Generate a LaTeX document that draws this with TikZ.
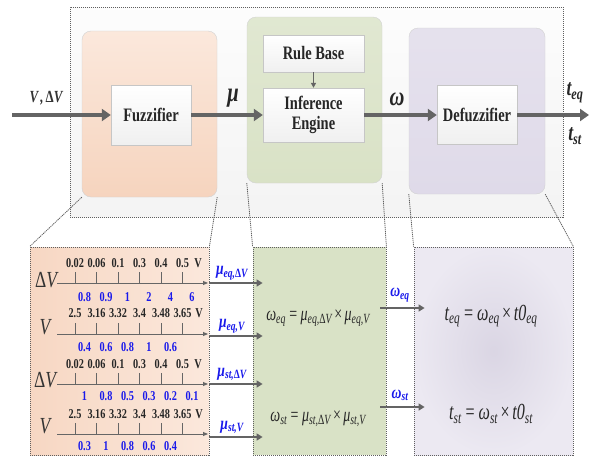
\documentclass[tikz,border=0pt]{standalone}
\usepackage{fontspec}
\setmainfont{Liberation Serif}
\usetikzlibrary{arrows.meta,positioning,calc}
\definecolor{framegrey}{RGB}{95,95,95}
\definecolor{arrowgrey}{RGB}{100,100,100}
\definecolor{fuzzorange}{RGB}{246,212,190}
\definecolor{fuzzdeep}{RGB}{247,215,195}
\definecolor{fuzzpale}{RGB}{251,232,220}
\definecolor{rulegreen}{RGB}{217,226,198}
\definecolor{defuzzpurple}{RGB}{223,218,233}
\definecolor{labelblue}{RGB}{25,25,235}
\newcommand{\nar}[1]{\scalebox{0.76}[1]{#1}}
\newcommand{\narr}[1]{\scalebox{0.7}[1]{#1}}
\newcommand{\bi}[1]{{\bfseries\itshape #1}}
\newcommand{\sub}[1]{\textsubscript{#1}}
\newcommand{\dV}{{\upshape Δ}V}

\begin{document}
\begin{tikzpicture}[x=1pt, y=-1pt,
    region/.style={draw=framegrey, line width=0.8pt, dash pattern=on 1.2pt off 0.8pt, inner sep=0pt},
    stage/.style={rectangle, rounded corners=9pt, draw=gray!35, inner sep=0pt},
    block/.style={rectangle, draw=gray!45, top color=white, bottom color=gray!12, inner sep=0pt,
                  font=\fontsize{19}{22}\selectfont\bfseries, text=black!85, align=center},
    flow/.style={draw=arrowgrey, line width=3.6pt, -{Triangle[length=9pt,width=12pt]}},
    subflow/.style={draw=arrowgrey, line width=1.8pt, -{Triangle[length=6pt,width=7pt]}},
    axisline/.style={draw=black!60, line width=0.9pt, -{Triangle[length=5pt,width=4pt]}},
    tickmark/.style={draw=black!60, line width=0.7pt},
    scalelbl/.style={font=\fontsize{13.5}{13.5}\selectfont\bfseries, text=black!85, inner sep=0pt},
    memblbl/.style={font=\fontsize{13.5}{13.5}\selectfont\bfseries, text=labelblue, inner sep=0pt},
    varlbl/.style={font=\fontsize{23}{23}\selectfont, text=black!80, inner sep=0pt},
    sig/.style={font=\fontsize{27}{27}\selectfont, text=black!85, inner sep=0pt},
    sublbl/.style={font=\fontsize{18}{18}\selectfont, text=labelblue, anchor=south, inner sep=1pt},
    eqn/.style={font=\fontsize{20}{20}\selectfont, text=black!85, inner sep=0pt}
]
    \useasboundingbox (0,0) rectangle (590,459);

    % fuzzy system overview
    \node[region, top color=gray!2, bottom color=gray!9, minimum width=493pt, minimum height=210pt] (system) at (316.5,112) {};
    \node[stage, top color=fuzzpale, bottom color=fuzzorange, minimum width=135pt, minimum height=166pt] (fuzzstage) at (149.5,114) {};
    \node[stage, top color=rulegreen!80, bottom color=rulegreen, minimum width=135pt, minimum height=166pt] (infstage) at (314.5,100) {};
    \node[stage, top color=defuzzpurple!80, bottom color=defuzzpurple, minimum width=136pt, minimum height=166pt] (defstage) at (477,111) {};

    \node[block, minimum width=80pt, minimum height=60pt] (fuzz) at (151,115) {\nar{Fuzzifier}};
    \node[block, minimum width=101pt, minimum height=37pt] (rule) at (313.5,53.5) {\nar{Rule Base}};
    \node[block, minimum width=101pt, minimum height=54pt] (infer) at (313.5,115) {\nar{Inference}\\[-2pt]\nar{Engine}};
    \node[block, minimum width=80pt, minimum height=59pt] (defuzz) at (477,115) {\nar{Defuzzifier}};

    \coordinate (in) at (12,115);
    \coordinate (out) at (589,115);
    \draw[flow] (in) -- (fuzz.west);
    \draw[flow] (fuzz) -- (infer);
    \draw[flow] (infer) -- (defuzz);
    \draw[flow] (defuzz) -- (out);
    \draw[draw=arrowgrey, line width=1.2pt, -{Triangle[length=5pt,width=5pt]}] (rule) -- (infer);

    \node[font=\fontsize{17}{17}\selectfont, text=black!80] (inlbl) at (46,98) {\nar{\bi{V}\,\bi{,}\,\bi{\dV}}};
    \node[sig] (mulbl) at (233,98) {\nar{\bi{μ}}};
    \node[sig] (omlbl) at (397,99) {\nar{\bi{ω}}};
    \node[sig, font=\fontsize{23}{23}\selectfont] (teqlbl) at (575,93) {\nar{\bi{t\sub{eq}}}};
    \node[sig, font=\fontsize{23}{23}\selectfont] (tstlbl) at (575,136) {\nar{\bi{t\sub{st}}}};

    % detail panels
    \node[region, left color=fuzzdeep, right color=fuzzpale, minimum width=179pt, minimum height=208pt] (fuzzB) at (119.5,351) {};
    \node[region, fill=rulegreen, minimum width=133pt, minimum height=208pt] (infB) at (319.5,351) {};
    \node[region, inner color=defuzzpurple!95!gray, outer color=defuzzpurple!60, minimum width=159pt, minimum height=208pt] (defB) at (493.5,351) {};

    \draw[region] (fuzzstage.south west) -- (fuzzB.north west);
    \draw[region] (fuzzstage.south east) -- (fuzzB.north east);
    \draw[region] (infstage.south west) -- (infB.north west);
    \draw[region] (infstage.south east) -- (infB.north east);
    \draw[region] (defstage.south west) -- (defB.north west);
    \draw[region] (defstage.south east) -- (defB.north east);

    % membership scales
    \node[varlbl] (dv1) at (46,280) {\nar{\itshape\dV}};
    \draw[axisline] (57,283) -- (208,283);
    \foreach \v [count=\i] in {0.02,0.06,0.1,0.3,0.4,0.5} {
        \draw[tickmark] ({53.5+21.5*\i},283) -- ++(0,-11);
        \node[scalelbl] (dvtopA\i) at ({53.5+21.5*\i},263) {\nar{\v}};
    }
    \node[scalelbl] (unitA) at (198,263) {\nar{V}};
    \foreach \v [count=\i] in {0.8,0.9,1,2,4,6}
        \node[memblbl] (dvlowA\i) at ({63+21.5*\i},297) {\nar{\v}};

    \node[varlbl] (v1) at (45,327) {\nar{\itshape V}};
    \draw[axisline] (57,334) -- (208,334);
    \foreach \v [count=\i] in {2.5,3.16,3.32,3.4,3.48,3.65} {
        \draw[tickmark] ({53.5+21.5*\i},334) -- ++(0,-11);
        \node[scalelbl] (vtopA\i) at ({53.5+21.5*\i},313) {\nar{\v}};
    }
    \node[scalelbl] (unitB) at (199,313) {\nar{V}};
    \foreach \v [count=\i] in {0.4,0.6,0.8,1,0.6}
        \node[memblbl] (vlowA\i) at ({63+21.5*\i},347) {\nar{\v}};

    \node[varlbl] (dv2) at (45,380) {\nar{\itshape\dV}};
    \draw[axisline] (57,384) -- (208,384);
    \foreach \v [count=\i] in {0.02,0.06,0.1,0.3,0.4,0.5} {
        \draw[tickmark] ({53.5+21.5*\i},384) -- ++(0,-11);
        \node[scalelbl] (dvtopB\i) at ({53.5+21.5*\i},364) {\nar{\v}};
    }
    \node[scalelbl] (unitC) at (198,364) {\nar{V}};
    \foreach \v [count=\i] in {1,0.8,0.5,0.3,0.2,0.1}
        \node[memblbl] (dvlowB\i) at ({63+21.5*\i},396) {\nar{\v}};

    \node[varlbl] (v2) at (45,426) {\nar{\itshape V}};
    \draw[axisline] (57,434) -- (208,434);
    \foreach \v [count=\i] in {2.5,3.16,3.32,3.4,3.48,3.65} {
        \draw[tickmark] ({53.5+21.5*\i},434) -- ++(0,-11);
        \node[scalelbl] (vtopB\i) at ({53.5+21.5*\i},414) {\nar{\v}};
    }
    \node[scalelbl] (unitD) at (199,414) {\nar{V}};
    \foreach \v [count=\i] in {0.3,1,0.8,0.6,0.4}
        \node[memblbl] (vlowB\i) at ({63+21.5*\i},446) {\nar{\v}};

    % memberships into the rule products
    \coordinate (m1) at (0,283);
    \coordinate (m2) at (0,336);
    \coordinate (m3) at (0,384);
    \coordinate (m4) at (0,437);
    \draw[subflow, shorten >=-10pt] (m1 -| fuzzB.east) -- (m1 -| infB.west);
    \draw[subflow, shorten >=-10pt] (m2 -| fuzzB.east) -- (m2 -| infB.west);
    \draw[subflow, shorten >=-10pt] (m3 -| fuzzB.east) -- (m3 -| infB.west);
    \draw[subflow, shorten >=-10pt] (m4 -| fuzzB.east) -- (m4 -| infB.west);
    \node[sublbl] (mu1) at (232,281) {\nar{\bi{μ\sub{eq,\dV}}}};
    \node[sublbl] (mu2) at (232,334) {\nar{\bi{μ\sub{eq,V}}}};
    \node[sublbl] (mu3) at (232,382) {\nar{\bi{μ\sub{st,\dV}}}};
    \node[sublbl] (mu4) at (232,435) {\nar{\bi{μ\sub{st,V}}}};

    \node[eqn] (wEq) at (318,318) {\narr{\itshape ω\sub{eq} {\upshape=} μ\sub{eq,\dV}\,{\upshape×}\,μ\sub{eq,V}}};
    \node[eqn] (wSt) at (318,419) {\narr{\itshape ω\sub{st} {\upshape=} μ\sub{st,\dV}\,{\upshape×}\,μ\sub{st,V}}};

    % weights into the defuzzified times
    \coordinate (w1) at (0,308);
    \coordinate (w2) at (0,407);
    \draw[subflow, shorten <=-6pt, shorten >=-11pt] (w1 -| infB.east) -- (w1 -| defB.west);
    \draw[subflow, shorten <=-6pt, shorten >=-11pt] (w2 -| infB.east) -- (w2 -| defB.west);
    \node[sublbl] (om1) at (400,303) {\nar{\bi{ω\sub{eq}}}};
    \node[sublbl] (om2) at (400,402) {\nar{\bi{ω\sub{st}}}};

    \node[eqn, font=\fontsize{23}{23}\selectfont] (tEq) at (491,316) {\narr{\itshape t\sub{eq} {\upshape=} ω\sub{eq}\,{\upshape×}\,t0\sub{eq}}};
    \node[eqn, font=\fontsize{23}{23}\selectfont] (tSt) at (491,414) {\narr{\itshape t\sub{st} {\upshape=} ω\sub{st}\,{\upshape×}\,t0\sub{st}}};
\end{tikzpicture}
\end{document}
